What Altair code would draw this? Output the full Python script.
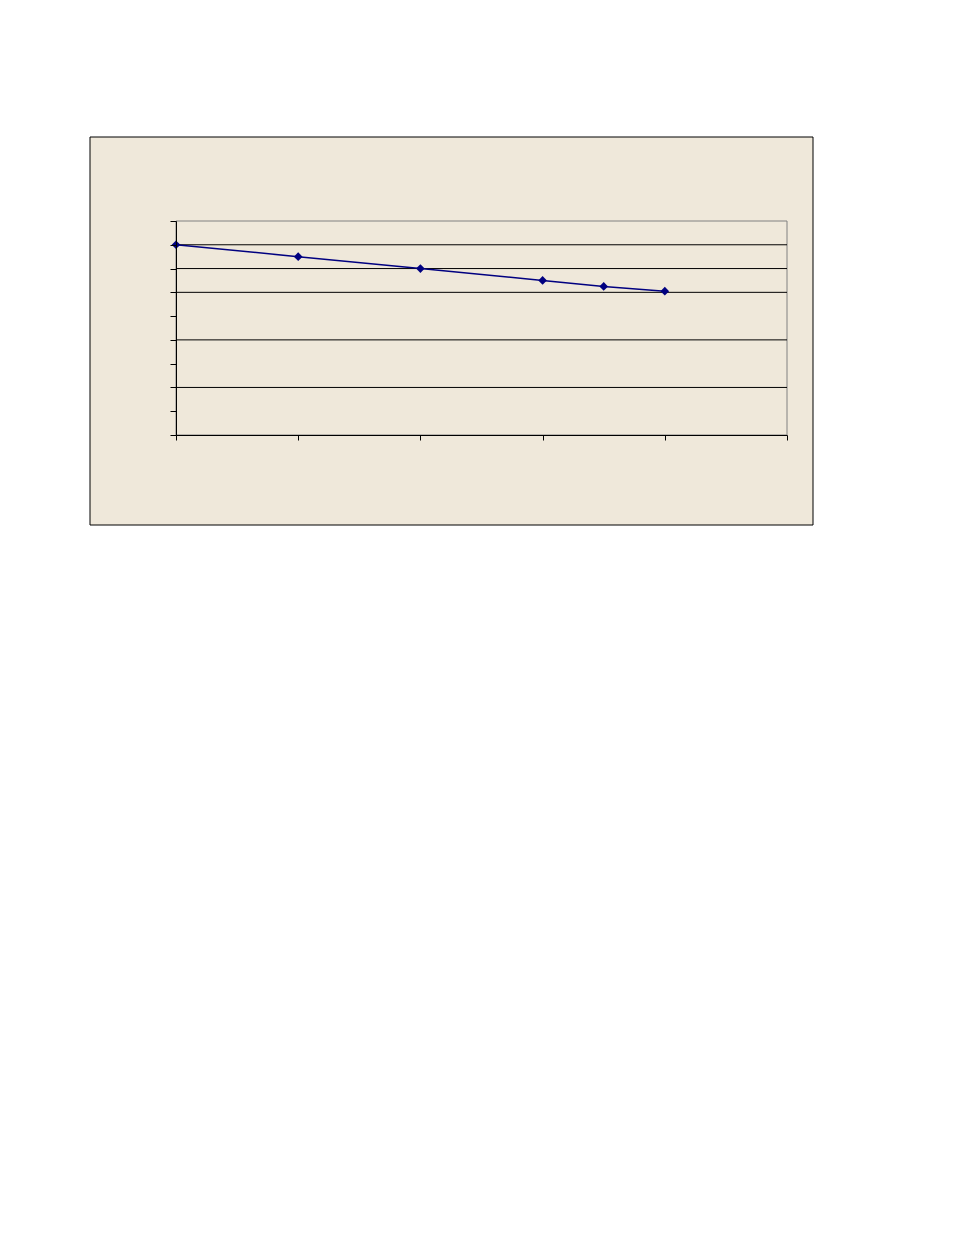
import altair as alt
import pandas as pd

x_vals = [0, 1, 2, 3, 3.5, 4]
y_vals = [80, 75, 70, 65, 62.5, 60.5]
grid_vals = [20, 40, 60, 70, 80]
x_ticks = [0, 1, 2, 3, 4, 5]
y_ticks = [0, 10, 20, 30, 40, 50, 60, 70, 80, 90]

df = pd.DataFrame({"x": x_vals, "y": y_vals})
gdf = pd.DataFrame({"g": grid_vals})

BG = "#EFE8DA"
NAVY = "#000080"

xs = alt.Scale(domain=[0, 5], nice=False, zero=False)
ys = alt.Scale(domain=[0, 90], nice=False)

xaxis = alt.Axis(values=x_ticks, labels=False, title=None, grid=False, labelOverlap=False,
                 domainColor="black", tickColor="black", tickSize=5, zindex=2)
yaxis = alt.Axis(values=y_ticks, tickCount=10, labels=False, title=None, grid=False,
                 labelOverlap=False, domainColor="black", tickColor="black", tickSize=6,
                 zindex=2)

frame = alt.Chart(pd.DataFrame({"a": [0]})).mark_rect(
    fill=BG, stroke="black", strokeWidth=1, clip=False
).encode(
    x=alt.value(-86), x2=alt.value(637), y=alt.value(-84), y2=alt.value(304)
)

border = alt.Chart(pd.DataFrame({"x0": [0], "x1": [5], "y0": [0], "y1": [90]})).mark_rect(
    fill=None, stroke="#808080", strokeWidth=1
).encode(
    x=alt.X("x0:Q", scale=xs, axis=xaxis), x2="x1:Q",
    y=alt.Y("y0:Q", scale=ys, axis=yaxis), y2="y1:Q",
)

grid = alt.Chart(gdf).mark_rule(color="black", strokeWidth=1).encode(
    y=alt.Y("g:Q", scale=ys)
)

line = alt.Chart(df).mark_line(color=NAVY, strokeWidth=1.5).encode(
    x=alt.X("x:Q", scale=xs),
    y=alt.Y("y:Q", scale=ys),
)
pts = alt.Chart(df).mark_point(shape="diamond", filled=True, color=NAVY, size=75, opacity=1).encode(
    x=alt.X("x:Q", scale=xs),
    y=alt.Y("y:Q", scale=ys),
)

chart = alt.layer(frame, border, grid, line, pts).properties(
    width=611, height=214,
    autosize=alt.AutoSizeParams(type="none"),
    padding={"left": 168, "top": 213, "right": 60, "bottom": 120},
    background="white",
).configure_view(stroke=None)

chart.save("out.html", embed_options={"renderer": "svg", "actions": False})
